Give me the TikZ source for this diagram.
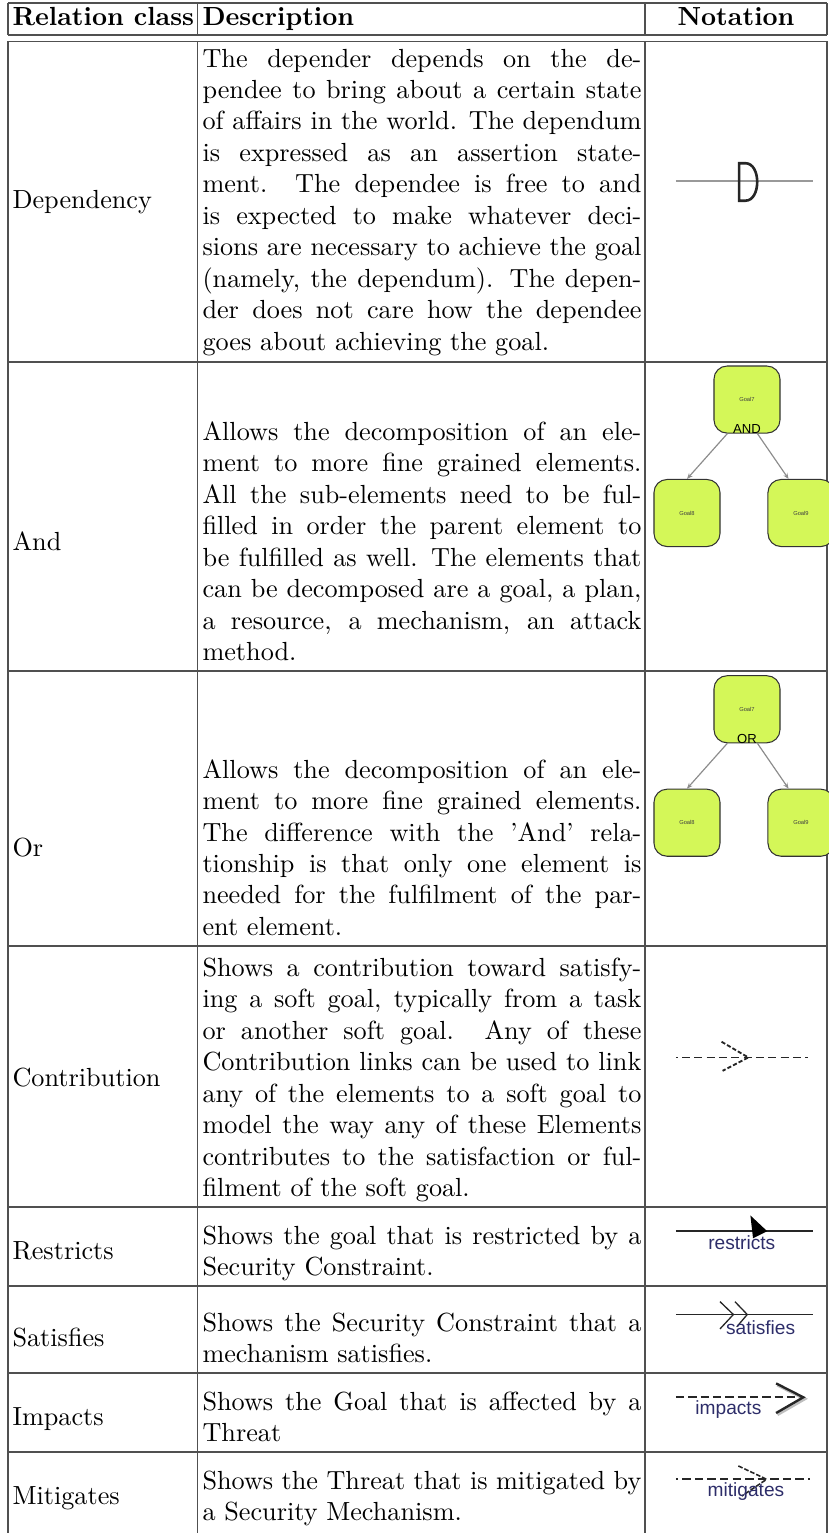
\documentclass[tikz,border=0pt]{standalone}
\usepackage{fontspec}
\newfontfamily\notefont{Liberation Sans}
\usetikzlibrary{arrows.meta}
\definecolor{goalgreen}{RGB}{212,247,88}
\definecolor{noteblue}{RGB}{45,45,105}
\definecolor{rulegray}{RGB}{80,80,80}

\tikzset{
  tablerule/.style={rulegray, line width=0.5pt},
  celltext/.style={anchor=north west, inner sep=0pt, text width=167.5pt, align=justify},
  classtext/.style={anchor=base west, inner sep=0pt},
  headtext/.style={anchor=base west, inner sep=0pt, font=\bfseries},
  goalbox/.style={draw=black!80, fill=goalgreen, rounded corners=5pt, line width=0.4pt,
    minimum width=25.2pt, minimum height=25.6pt, inner sep=0pt,
    font=\notefont\fontsize{2.2}{2.6}\selectfont, text=black!75},
  decomp/.style={draw=black!45, line width=0.45pt, -{Stealth[length=2.2pt,width=1.8pt]}},
  gatetext/.style={anchor=base, inner sep=0pt, font=\notefont\fontsize{5}{6}\selectfont},
  linklabel/.style={inner sep=0pt, font=\notefont\fontsize{7.3}{8}\selectfont, text=noteblue},
  linkline/.style={black!85, line width=0.7pt},
}

\begin{document}
\begin{tikzpicture}[x=1pt,y=-1pt]
\useasboundingbox (0,0) rectangle (316.4,585.1);

% table frame
\foreach \y in {1.2,13.4,15.8,138.2,256.1,361,460.7,490.8,524.0,554.2}
  \draw[tablerule] (3,\y) -- (315.6,\y);
\foreach \x in {3,75.5,246.2,315.6} {
  \draw[tablerule] (\x,1.2) -- (\x,13.4);
  \draw[tablerule] (\x,15.8) -- (\x,585.1);
}

% header
\node[headtext] (hClass) at (4.6,9.6) {Relation class};
\node[headtext] (hDesc) at (77.1,9.6) {Description};
\node[headtext, anchor=base] (hNote) at (280.9,9.6) {Notation};

% relation classes
\node[classtext] (depClass) at (4.6,79.5) {Dependency};
\node[classtext] (andClass) at (4.6,210) {And};
\node[classtext] (orClass) at (4.6,326.9) {Or};
\node[classtext] (conClass) at (4.6,414.6) {Contribution};
\node[classtext] (resClass) at (4.6,480.7) {Restricts};
\node[classtext] (satClass) at (4.6,513.9) {Satisfies};
\node[classtext] (impClass) at (4.6,544.1) {Impacts};
\node[classtext] (mitClass) at (4.6,574.3) {Mitigates};

% descriptions
\node[celltext] (depText) at (77.1,17.0) {\strut The depender depends on the de-\linebreak
pendee to bring about a certain state\linebreak
of affairs in the world. The dependum\linebreak
is expressed as an assertion state-\linebreak
ment. The dependee is free to and\linebreak
is expected to make whatever deci-\linebreak
sions are necessary to achieve the goal\linebreak
(namely, the dependum). The depen-\linebreak
der does not care how the dependee\linebreak
goes about achieving the goal.};
\node[celltext] (andText) at (77.1,159.5) {\strut Allows the decomposition of an ele-\linebreak
ment to more fine grained elements.\linebreak
All the sub-elements need to be ful-\linebreak
filled in order the parent element to\linebreak
be fulfilled as well. The elements that\linebreak
can be decomposed are a goal, a plan,\linebreak
a resource, a mechanism, an attack\linebreak
method.};
\node[celltext] (orText) at (77.1,288.4) {\strut Allows the decomposition of an ele-\linebreak
ment to more fine grained elements.\linebreak
The difference with the 'And' rela-\linebreak
tionship is that only one element is\linebreak
needed for the fulfilment of the par-\linebreak
ent element.};
\node[celltext] (conText) at (77.1,364.1) {\strut Shows a contribution toward satisfy-\linebreak
ing a soft goal, typically from a task\linebreak
or another soft goal. Any of these\linebreak
Contribution links can be used to link\linebreak
any of the elements to a soft goal to\linebreak
model the way any of these Elements\linebreak
contributes to the satisfaction or ful-\linebreak
filment of the soft goal.};
\node[celltext] (resText) at (77.1,466.2) {\strut Shows the goal that is restricted by a\linebreak
Security Constraint.};
\node[celltext] (satText) at (77.1,499.4) {\strut Shows the Security Constraint that a\linebreak
mechanism satisfies.};
\node[celltext] (impText) at (77.1,529.6) {\strut Shows the Goal that is affected by a\linebreak
Threat};
\node[celltext] (mitText) at (77.1,559.8) {\strut Shows the Threat that is mitigated by\linebreak
a Security Mechanism.};

% dependency notation
\coordinate (depL) at (258,69.1);
\coordinate (depR) at (310.2,69.1);
\draw[black!40, line width=1.1pt] (depL) -- (depR);
\draw[black!85, line width=1pt] (282.1,62.3) -- (284.5,62.3)
  .. controls (290.5,62.3) and (290.5,76.6) .. (284.5,76.6) -- (282.1,76.6) -- cycle;

% and decomposition
\node[goalbox] (andGoal7) at (285.1,152.5) {Goal7};
\node[goalbox] (andGoal8) at (262.2,195.8) {Goal8};
\node[goalbox] (andGoal9) at (305.7,195.8) {Goal9};
\node[gatetext] (andGate) at (andGoal7.south) {AND};
\draw[decomp] (andGoal7.240) -- (andGoal8.north);
\draw[decomp] (andGoal7.287) -- (andGoal9.110);

% or decomposition
\node[goalbox] (orGoal7) at (285.1,270.7) {Goal7};
\node[goalbox] (orGoal8) at (262.2,314.0) {Goal8};
\node[goalbox] (orGoal9) at (305.7,314.0) {Goal9};
\node[gatetext] (orGate) at (orGoal7.south) {OR};
\draw[decomp] (orGoal7.240) -- (orGoal8.north);
\draw[decomp] (orGoal7.287) -- (orGoal9.110);

% contribution link
\coordinate (conL) at (258,403.6);
\coordinate (conR) at (308.4,403.6);
\draw[linkline, dash pattern=on 3.1pt off 1.6pt, dash phase=2.4pt] (conL) -- (conR);
\draw[linkline, dash pattern=on 1.6pt off 0.8pt] (275.4,397.6) -- (285.6,403.6) -- (275.8,408.7);

% restricts link
\coordinate (resL) at (258,469.7);
\coordinate (resR) at (310.3,469.7);
\draw[linkline] (resL) -- (resR);
\fill[black] (286.4,463.9) -- (292.8,469.9) -- (287.4,472.6) -- cycle;
\node[linklabel] (resLabel) at (283.1,474.4) {restricts};

% satisfies link
\coordinate (satL) at (258,501.7);
\coordinate (satR) at (310.3,501.7);
\draw[linkline] (satL) -- (satR);
\draw[linkline, line width=0.5pt] (274.8,496.8) -- (279.9,501.7) -- (274.8,507.2);
\draw[linkline, line width=0.5pt] (280.5,496.8) -- (285.2,501.7) -- (281.2,506.4);
\node[linklabel] (satLabel) at (290.3,506.8) {satisfies};

% impacts link
\coordinate (impL) at (258,533.1);
\coordinate (impR) at (305,533.1);
\draw[black!25, line width=1.2pt] (296.7,528.6) -- (307.1,533.9) -- (296.7,539.9);
\draw[linkline, dash pattern=on 3.2pt off 1.5pt] (impL) -- (impR);
\draw[linkline, line width=0.9pt] (296.2,528) -- (306.6,533.3) -- (296.2,539.3);
\node[linklabel] (impLabel) at (278,538.0) {impacts};

% mitigates link
\coordinate (mitL) at (258,564.6);
\coordinate (mitR) at (309.2,564.6);
\draw[linkline, dash pattern=on 3.2pt off 1.6pt, dash phase=2.4pt] (mitL) -- (mitR);
\draw[linkline, line width=0.6pt, dash pattern=on 1.8pt off 0.7pt] (281.8,559.5) -- (292.6,564.6) -- (283.1,571);
\node[linklabel] (mitLabel) at (284.7,569.1) {mitigates};
\end{tikzpicture}
\end{document}
